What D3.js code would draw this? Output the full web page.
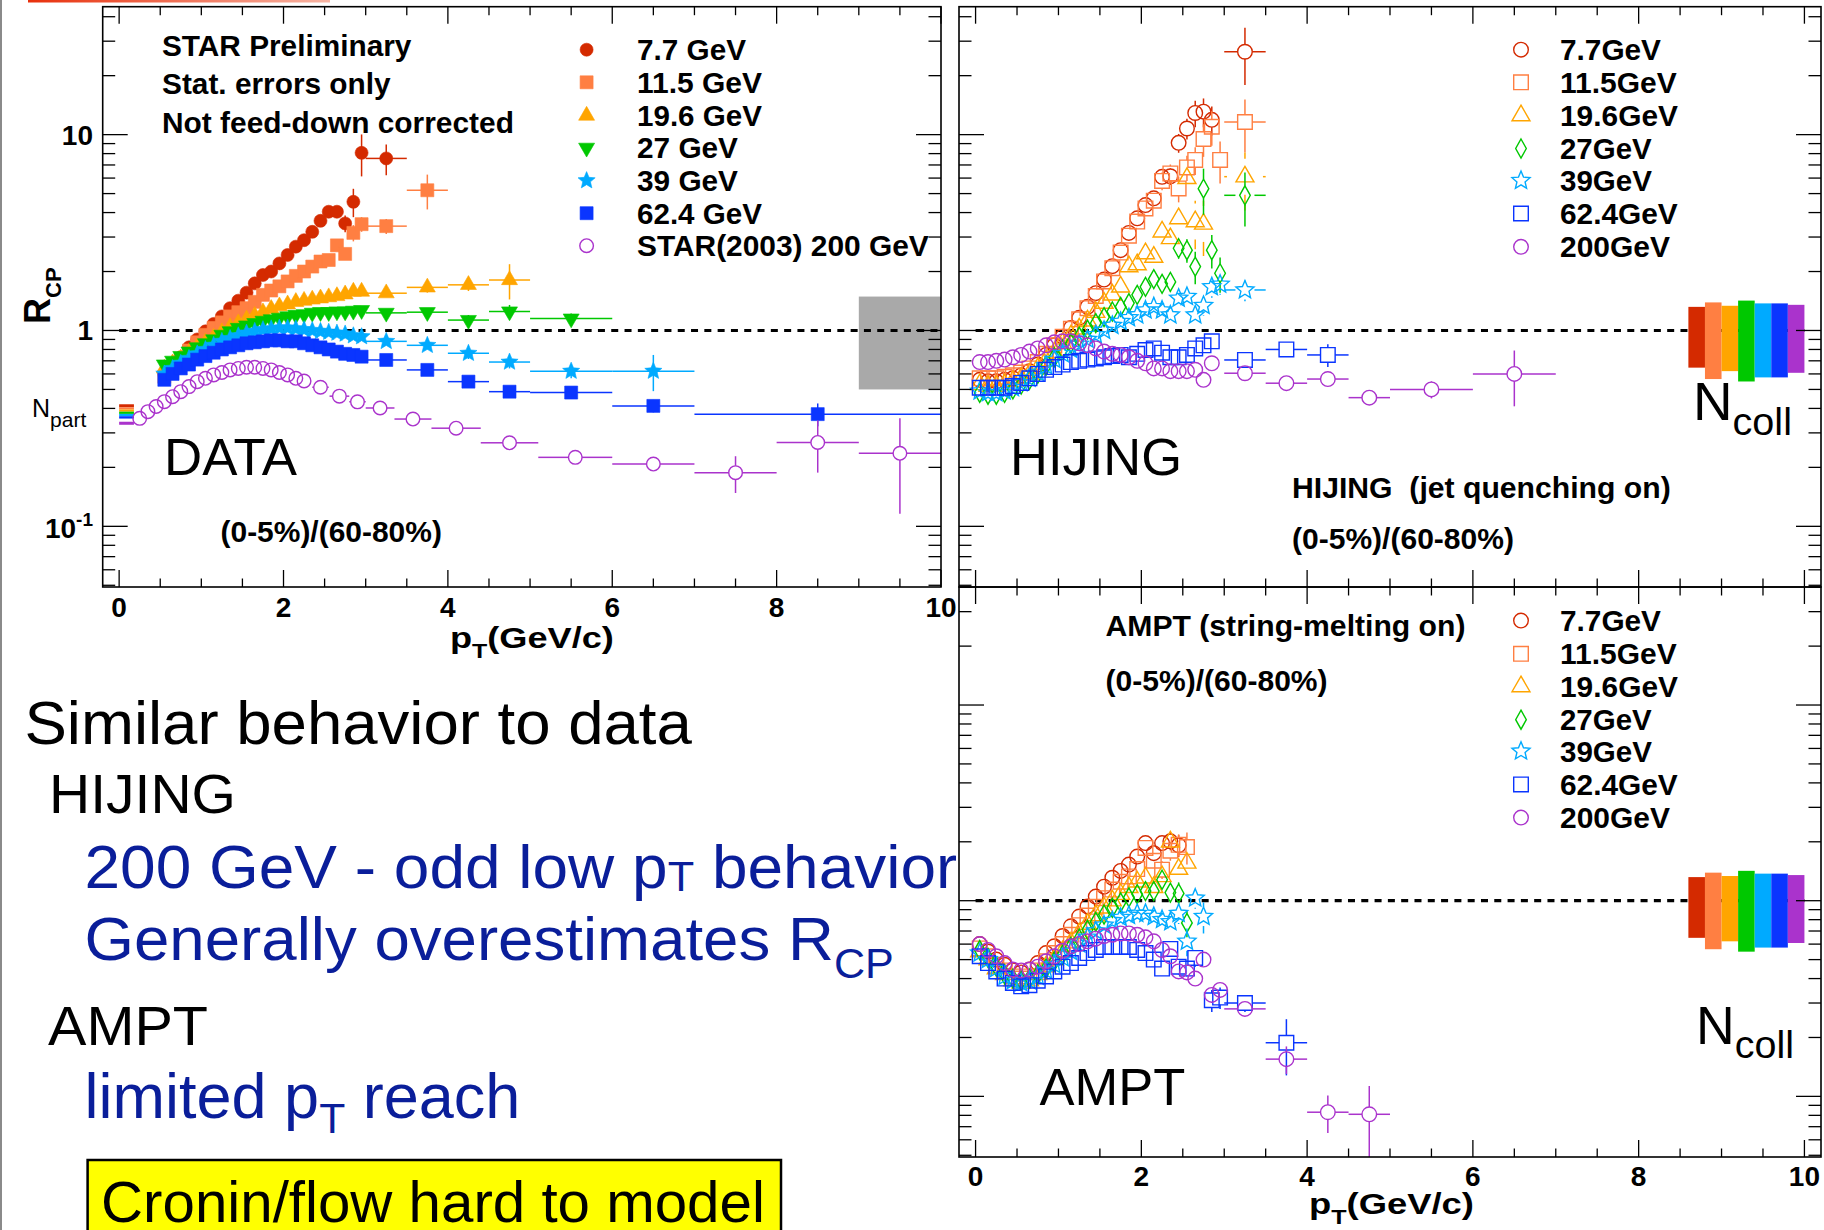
<!DOCTYPE html>
<html>
<head>
<meta charset="utf-8">
<script src="https://cdn.jsdelivr.net/npm/d3@7"></script>
<style>
  html, body { margin: 0; padding: 0; background: #fff; }
  svg { display: block; }
  text { font-family: "Liberation Sans", Arial, Helvetica, sans-serif; }
</style>
</head>
<body>
<svg id="slide" width="1824" height="1230"></svg>
<script>
// ---------------------------------------------------------------------------
// R_CP (0-5%)/(60-80%) vs pT.  Rows: [pT, R_CP, pT half-width, stat. error]
// ---------------------------------------------------------------------------

// STAR data, BES energies + STAR(2003) 200 GeV
const data7p7 = [[0.55,0.60],[0.65,0.66],[0.75,0.73],[0.85,0.82],[0.95,0.90],[1.05,0.99],[1.15,1.08],[1.25,1.18],[1.35,1.30],[1.45,1.42],[1.55,1.56],[1.65,1.74],[1.75,1.92],[1.85,2.00],[1.95,2.20],[2.05,2.43],[2.15,2.68],[2.25,2.89],[2.35,3.19],[2.45,3.63],[2.55,4.04],[2.65,4.04],[2.75,3.52,0.05,0.35],[2.85,4.54,0.05,0.75],[2.95,8.07,0.05,1.95],[3.25,7.56,0.25,1.35]];
const data11p5 = [[0.55,0.58],[0.65,0.64],[0.75,0.71],[0.85,0.79],[0.95,0.87],[1.05,0.95],[1.15,1.03],[1.25,1.10],[1.35,1.18],[1.45,1.24],[1.55,1.30],[1.65,1.40],[1.75,1.52],[1.85,1.60],[1.95,1.68],[2.05,1.78],[2.15,1.90],[2.25,2.00],[2.35,2.12],[2.45,2.25],[2.55,2.29],[2.65,2.72],[2.75,2.46],[2.85,3.15,0.05,0.3],[2.95,3.49,0.05,0.3],[3.25,3.41,0.25,0.3],[3.75,5.2,0.25,1.05]];
const data19p6 = [[0.55,0.64],[0.65,0.68],[0.75,0.72],[0.85,0.77],[0.95,0.82],[1.05,0.87],[1.15,0.92],[1.25,0.98],[1.35,1.04],[1.45,1.09],[1.55,1.14],[1.65,1.19],[1.75,1.24],[1.85,1.29],[1.95,1.33],[2.05,1.36],[2.15,1.40],[2.25,1.42],[2.35,1.44],[2.45,1.46],[2.55,1.48],[2.65,1.50],[2.75,1.53],[2.85,1.58],[2.95,1.58],[3.25,1.55,0.25,0.06],[3.75,1.66,0.25,0.1],[4.25,1.71,0.25,0.12],[4.75,1.81,0.25,0.37]];
const data27 = [[0.55,0.67],[0.65,0.70],[0.75,0.74],[0.85,0.78],[0.95,0.82],[1.05,0.86],[1.15,0.90],[1.25,0.95],[1.35,0.99],[1.45,1.03],[1.55,1.06],[1.65,1.09],[1.75,1.12],[1.85,1.14],[1.95,1.16],[2.05,1.18],[2.15,1.20],[2.25,1.21],[2.35,1.23],[2.45,1.24],[2.55,1.24],[2.65,1.25],[2.75,1.25],[2.85,1.26],[2.95,1.27],[3.25,1.23,0.25,0.04],[3.75,1.24,0.25,0.05],[4.25,1.13,0.25,0.07],[4.75,1.25,0.25,0.1],[5.5,1.15,0.5,0.07]];
const data39 = [[0.55,0.60],[0.65,0.64],[0.75,0.68],[0.85,0.72],[0.95,0.76],[1.05,0.80],[1.15,0.84],[1.25,0.88],[1.35,0.91],[1.45,0.94],[1.55,0.97],[1.65,0.99],[1.75,1.01],[1.85,1.02],[1.95,1.03],[2.05,1.03],[2.15,1.02],[2.25,1.01],[2.35,1.00],[2.45,0.99],[2.55,0.98],[2.65,0.97],[2.75,0.96],[2.85,0.94],[2.95,0.93],[3.25,0.88,0.25,0.03],[3.75,0.84,0.25,0.04],[4.25,0.765,0.25,0.05],[4.75,0.69,0.25,0.05],[5.5,0.62,0.5,0.05],[6.5,0.62,0.5,0.13]];
const data62p4 = [[0.55,0.56],[0.65,0.60],[0.75,0.64],[0.85,0.67],[0.95,0.71],[1.05,0.74],[1.15,0.77],[1.25,0.80],[1.35,0.82],[1.45,0.84],[1.55,0.86],[1.65,0.87],[1.75,0.88],[1.85,0.89],[1.95,0.89],[2.05,0.88],[2.15,0.88],[2.25,0.86],[2.35,0.84],[2.45,0.82],[2.55,0.80],[2.65,0.78],[2.75,0.76],[2.85,0.75],[2.95,0.735],[3.25,0.707,0.25,0.01],[3.75,0.629,0.25,0.015],[4.25,0.548,0.25,0.02],[4.75,0.487,0.25,0.02],[5.5,0.482,0.5,0.02],[6.5,0.412,0.5,0.03],[8.5,0.374,1.5,0.05]];
const data200 = [[0.25,0.356],[0.35,0.385],[0.45,0.409],[0.55,0.433],[0.65,0.459],[0.75,0.487],[0.85,0.517],[0.95,0.548],[1.05,0.57],[1.15,0.593],[1.25,0.61],[1.35,0.629],[1.45,0.64],[1.55,0.649],[1.65,0.649],[1.75,0.64],[1.85,0.629],[1.95,0.61],[2.05,0.593],[2.15,0.57],[2.25,0.552],[2.45,0.513,0.1,0.01],[2.68,0.462,0.12,0.01],[2.9,0.432,0.1,0.01],[3.175,0.402,0.175,0.012],[3.575,0.353,0.225,0.012],[4.1,0.317,0.3,0.012],[4.75,0.267,0.35,0.012],[5.55,0.225,0.45,0.01],[6.5,0.208,0.5,0.015],[7.5,0.188,0.5,0.04],[8.5,0.268,0.5,0.08],[9.5,0.236,0.5,0.12]];

// HIJING (jet quenching on)
const hij7p7 = [[0.05,0.56],[0.15,0.55],[0.25,0.55],[0.35,0.56],[0.45,0.57],[0.55,0.59],[0.65,0.62],[0.75,0.67],[0.85,0.75],[0.95,0.84],[1.05,0.93],[1.15,1.03],[1.25,1.16],[1.35,1.32],[1.45,1.55],[1.55,1.82],[1.65,2.13],[1.75,2.57],[1.85,3.15],[1.95,3.74],[2.05,4.37],[2.15,4.73],[2.25,6.09,0.05,0.5],[2.35,6.13,0.05,0.6],[2.45,9.08,0.05,1.0],[2.55,10.75,0.05,1.3],[2.65,12.9,0.05,2.0],[2.75,13.1,0.05,2.2],[2.85,11.9,0.05,2.0],[3.25,26.5,0.25,8.6]];
const hij11p5 = [[0.05,0.57],[0.15,0.57],[0.25,0.57],[0.35,0.58],[0.45,0.59],[0.55,0.61],[0.65,0.64],[0.75,0.69],[0.85,0.76],[0.95,0.84],[1.05,0.93],[1.15,1.02],[1.25,1.14],[1.35,1.30],[1.45,1.50],[1.55,1.78],[1.65,2.08],[1.75,2.50],[1.85,3.05],[1.95,3.60],[2.05,4.20],[2.15,4.60],[2.25,5.80,0.05,0.6],[2.35,6.34,0.05,0.7],[2.45,5.31,0.05,0.8],[2.55,6.80,0.05,1.0],[2.65,7.43,0.05,1.2],[2.75,9.5,0.05,1.8],[2.85,10.97,0.05,2.2],[2.95,7.43,0.05,1.8],[3.25,11.6,0.25,3.5]];
const hij19p6 = [[0.05,0.53],[0.15,0.52],[0.25,0.52],[0.35,0.53],[0.45,0.55],[0.55,0.57],[0.65,0.60],[0.75,0.64],[0.85,0.70],[0.95,0.77],[1.05,0.86],[1.15,0.94],[1.25,1.02],[1.35,1.12],[1.45,1.24],[1.55,1.38],[1.65,1.52],[1.75,1.67],[1.85,2.12,0.05,0.15],[1.95,2.17,0.05,0.2],[2.05,2.47,0.05,0.25],[2.15,2.37,0.05,0.3],[2.25,3.19,0.05,0.4],[2.35,2.95,0.05,0.45],[2.45,3.73,0.05,0.7],[2.55,5.98,0.05,1.1],[2.65,3.60,0.05,1.0],[2.75,3.50,0.05,1.1],[3.25,6.1,0.25,2.0]];
const hij27 = [[0.05,0.48],[0.15,0.47],[0.25,0.47],[0.35,0.48],[0.45,0.50],[0.55,0.53],[0.65,0.56],[0.75,0.60],[0.85,0.66],[0.95,0.73],[1.05,0.80],[1.15,0.86],[1.25,0.93],[1.35,1.01],[1.45,1.09],[1.55,1.17],[1.65,1.25],[1.75,1.32],[1.85,1.38],[1.95,1.52],[2.05,1.67,0.05,0.1],[2.15,1.83,0.05,0.12],[2.25,1.73,0.05,0.15],[2.35,1.77,0.05,0.2],[2.45,2.63,0.05,0.3],[2.55,2.57,0.05,0.35],[2.65,2.12,0.05,0.4],[2.75,5.3,0.05,1.4],[2.85,2.57,0.05,0.5],[2.95,1.96,0.05,0.4],[3.25,4.9,0.25,1.5]];
const hij39 = [[0.05,0.49],[0.15,0.48],[0.25,0.48],[0.35,0.49],[0.45,0.51],[0.55,0.54],[0.65,0.57],[0.75,0.61],[0.85,0.66],[0.95,0.71],[1.05,0.76],[1.15,0.80],[1.25,0.85],[1.35,0.90],[1.45,0.95],[1.55,1.00],[1.65,1.06],[1.75,1.11],[1.85,1.16],[1.95,1.20],[2.05,1.27],[2.15,1.32],[2.25,1.27],[2.35,1.20],[2.45,1.46,0.05,0.1],[2.55,1.49,0.05,0.1],[2.65,1.20,0.05,0.12],[2.75,1.34,0.05,0.15],[2.85,1.67,0.05,0.2],[2.95,1.72,0.05,0.2],[3.25,1.61,0.25,0.2]];
const hij62p4 = [[0.05,0.51],[0.15,0.51],[0.25,0.51],[0.35,0.51],[0.45,0.52],[0.55,0.54],[0.65,0.57],[0.75,0.60],[0.85,0.63],[0.95,0.65],[1.05,0.67],[1.15,0.69],[1.25,0.70],[1.35,0.71],[1.45,0.72],[1.55,0.73],[1.65,0.74],[1.75,0.75],[1.85,0.73],[1.95,0.76],[2.05,0.795],[2.15,0.81],[2.25,0.77],[2.35,0.73],[2.45,0.73],[2.55,0.75],[2.65,0.81],[2.75,0.84],[2.85,0.88],[3.25,0.707,0.25,0.03],[3.75,0.80,0.25,0.05],[4.25,0.75,0.25,0.1]];
const hij200 = [[0.05,0.69],[0.15,0.69],[0.25,0.70],[0.35,0.71],[0.45,0.73],[0.55,0.75],[0.65,0.78],[0.75,0.81],[0.85,0.84],[0.95,0.87],[1.05,0.88],[1.15,0.88],[1.25,0.86],[1.35,0.84],[1.45,0.81],[1.55,0.78],[1.65,0.76],[1.75,0.75],[1.85,0.73],[1.95,0.70],[2.05,0.68],[2.15,0.64],[2.25,0.64],[2.35,0.62],[2.45,0.62],[2.55,0.62],[2.65,0.63],[2.75,0.56],[2.85,0.68],[3.25,0.605,0.25,0.02],[3.75,0.538,0.25,0.02],[4.25,0.565,0.25,0.04],[4.75,0.454,0.25,0.03],[5.5,0.50,0.5,0.05],[6.5,0.60,0.5,0.19]];

// AMPT (string-melting on)
const amp7p7 = [[0.05,0.60],[0.15,0.55],[0.25,0.50],[0.35,0.47],[0.45,0.44],[0.55,0.43],[0.65,0.445],[0.75,0.48],[0.85,0.54],[0.95,0.585],[1.05,0.66],[1.15,0.74],[1.25,0.83],[1.35,0.935],[1.45,1.05],[1.55,1.18],[1.65,1.31],[1.75,1.42],[1.85,1.53],[1.95,1.68],[2.05,1.97],[2.15,1.75],[2.25,1.97,0.05,0.15],[2.35,2.01,0.05,0.2],[2.45,1.92,0.05,0.25]];
const amp11p5 = [[0.05,0.57],[0.15,0.52],[0.25,0.47],[0.35,0.44],[0.45,0.41],[0.55,0.40],[0.65,0.41],[0.75,0.44],[0.85,0.49],[0.95,0.54],[1.05,0.60],[1.15,0.67],[1.25,0.75],[1.35,0.84],[1.45,0.93],[1.55,1.03],[1.65,1.14],[1.75,1.25],[1.85,1.33],[1.95,1.45],[2.05,1.86],[2.15,1.60],[2.25,1.44,0.05,0.15],[2.35,1.80,0.05,0.2],[2.45,1.93,0.05,0.25],[2.55,1.88,0.05,0.35]];
const amp19p6 = [[0.05,0.55],[0.15,0.50],[0.25,0.45],[0.35,0.42],[0.45,0.39],[0.55,0.38],[0.65,0.39],[0.75,0.42],[0.85,0.46],[0.95,0.50],[1.05,0.55],[1.15,0.61],[1.25,0.68],[1.35,0.76],[1.45,0.84],[1.55,0.92],[1.65,1.00],[1.75,1.08],[1.85,1.17],[1.95,1.25],[2.05,1.31],[2.15,1.17],[2.25,1.33,0.05,0.15],[2.35,2.0,0.05,0.35],[2.45,1.45,0.05,0.2],[2.55,1.56,0.05,0.25]];
const amp27 = [[0.05,0.56],[0.15,0.51],[0.25,0.46],[0.35,0.42],[0.45,0.40],[0.55,0.39],[0.65,0.40],[0.75,0.42],[0.85,0.45],[0.95,0.49],[1.05,0.53],[1.15,0.58],[1.25,0.64],[1.35,0.71],[1.45,0.78],[1.55,0.85],[1.65,0.92],[1.75,0.98],[1.85,1.04],[1.95,1.08],[2.05,1.12],[2.15,1.12],[2.25,1.28,0.05,0.12],[2.35,1.10,0.05,0.12],[2.45,1.09,0.05,0.15],[2.55,0.77,0.05,0.12]];
const amp39 = [[0.05,0.54],[0.15,0.50],[0.25,0.45],[0.35,0.41],[0.45,0.39],[0.55,0.38],[0.65,0.39],[0.75,0.41],[0.85,0.44],[0.95,0.47],[1.05,0.51],[1.15,0.55],[1.25,0.60],[1.35,0.65],[1.45,0.70],[1.55,0.75],[1.65,0.79],[1.75,0.82],[1.85,0.84],[1.95,0.86],[2.05,0.86],[2.15,0.83],[2.25,0.80],[2.35,0.78,0.05,0.08],[2.45,0.86,0.05,0.1],[2.55,0.62,0.05,0.1],[2.65,1.03,0.05,0.12],[2.75,0.83,0.05,0.15]];
const amp62p4 = [[0.05,0.52],[0.15,0.48],[0.25,0.435],[0.35,0.40],[0.45,0.38],[0.55,0.365],[0.65,0.37],[0.75,0.39],[0.85,0.41],[0.95,0.435],[1.05,0.46],[1.15,0.48],[1.25,0.51],[1.35,0.54],[1.45,0.56],[1.55,0.58],[1.65,0.58],[1.75,0.58],[1.85,0.58],[1.95,0.56],[2.05,0.54],[2.15,0.50],[2.25,0.45],[2.35,0.567,0.05,0.04],[2.45,0.46,0.05,0.04],[2.55,0.45,0.05,0.04],[2.65,0.51,0.05,0.05],[2.85,0.31,0.05,0.04],[2.95,0.32,0.05,0.04],[3.25,0.30,0.25,0.03],[3.75,0.188,0.25,0.06]];
const amp200 = [[0.05,0.60],[0.15,0.56],[0.25,0.52],[0.35,0.48],[0.45,0.445],[0.55,0.44],[0.65,0.445],[0.75,0.46],[0.85,0.49],[0.95,0.52],[1.05,0.555],[1.15,0.585],[1.25,0.60],[1.35,0.62],[1.45,0.64],[1.55,0.66],[1.65,0.67],[1.75,0.68],[1.85,0.68],[1.95,0.67],[2.05,0.65],[2.15,0.62],[2.25,0.56],[2.35,0.52],[2.45,0.435],[2.55,0.43],[2.65,0.40],[2.75,0.50],[2.85,0.33,0.05,0.03],[2.95,0.35,0.05,0.03],[3.25,0.28,0.25,0.02],[3.75,0.155,0.25,0.025],[4.25,0.083,0.25,0.018],[4.75,0.081,0.25,0.032]];

// Scaling uncertainty bands, one per energy (7.7 ... 200 GeV)
const ncollLo = [0.646, 0.565, 0.620, 0.549, 0.576, 0.576, 0.608];
const ncollHi = [1.32, 1.391, 1.337, 1.421, 1.375, 1.375, 1.352];
const ncollX = [8.6, 8.8, 9.0, 9.2, 9.4, 9.6, 9.8];
const npartLo = [0.405, 0.395, 0.385, 0.375, 0.365, 0.355, 0.330];
const npartHi = [0.420, 0.405, 0.395, 0.385, 0.375, 0.365, 0.342];
const dataNormBox = [9.0, 10.0, 0.5, 1.49];   // pT from, pT to, R_CP low, R_CP high

// Legends and axis labels
const labelsData = ["7.7 GeV", "11.5 GeV", "19.6 GeV", "27 GeV", "39 GeV", "62.4 GeV", "STAR(2003) 200 GeV"];
const labelsModel = ["7.7GeV", "11.5GeV", "19.6GeV", "27GeV", "39GeV", "62.4GeV", "200GeV"];
const xTickLabels = [0, 2, 4, 6, 8, 10];
const yTickLabels = [10, 1, 0.1];

// ---------------------------------------------------------------------------
const colors = ["#d42a00", "#ff7f42", "#ffa500", "#00c800", "#00aaff", "#0a35ff", "#aa33cc"];
const yDomain = [0.049, 45];
const svg = d3.select("#slide");

// Shape outline for a marker, centered on 0,0
function shapePath(kind, s) {
  const r3 = Math.sqrt(3);
  switch (kind) {
    case "circle": return `M${s},0A${s},${s} 0 1,1 ${-s},0A${s},${s} 0 1,1 ${s},0Z`;
    case "square": return `M${-s},${-s}H${s}V${s}H${-s}Z`;
    case "triUp": return `M0,${-s / r3}L${s / 2},${s / (2 * r3)}L${-s / 2},${s / (2 * r3)}Z`;
    case "triDown": return `M0,${s / r3}L${s / 2},${-s / (2 * r3)}L${-s / 2},${-s / (2 * r3)}Z`;
    case "diamond": return `M0,${-s}L${s * 0.56},0L0,${s}L${-s * 0.56},0Z`;
    case "star": {
      const pts = d3.range(10).map(i => {
        const a = -Math.PI / 2 + i * Math.PI / 5;
        const rr = i % 2 === 0 ? s : s * 0.45;
        return [rr * Math.cos(a), rr * Math.sin(a)];
      });
      return "M" + pts.map(p => p[0].toFixed(2) + "," + p[1].toFixed(2)).join("L") + "Z";
    }
  }
}

// Text squeezed/stretched horizontally to a given width
function fitText(parent, parts, x, y, width, size, opts = {}) {
  const t = parent.append("text")
    .attr("font-size", size)
    .attr("font-weight", opts.bold ? "bold" : "normal")
    .attr("fill", opts.fill || "#000")
    .style("white-space", "pre");
  parts.forEach(p => {
    const s = t.append("tspan").text(p.t);
    if (p.size) s.attr("font-size", p.size);
    if (p.dy) s.attr("dy", p.dy);
  });
  const w = t.node().getComputedTextLength();
  const sx = width ? width / w : 1;
  t.attr("transform", `translate(${x},${y}) scale(${sx},1)`);
  return t;
}

// Panel: scales over the plot area; the frame may start below the scale's top (fTop)
function makePanel(g, p) {
  const x = d3.scaleLinear().domain(p.xd).range([p.x0, p.x1]);
  const y = d3.scaleLog().domain(yDomain).range([p.y1, p.y0]);
  return Object.assign({ g, x, y, fTop: p.y0 }, p);
}

function drawFrame(P) {
  const g = P.g.append("g").attr("stroke", "#000").attr("fill", "none");
  const top = P.fTop;
  const xt = d3.range(0, 10.001, 0.5);
  const isMajorX = d => Math.abs(d / 2 - Math.round(d / 2)) < 1e-6;
  const yt = [];
  [-2, -1, 0, 1].forEach(e => d3.range(1, 10).forEach(m => yt.push(m * Math.pow(10, e))));
  const yIn = yt.filter(v => v >= yDomain[0] && v <= yDomain[1] && P.y(v) >= top);
  const isMajorY = v => Math.abs(Math.log10(v) - Math.round(Math.log10(v))) < 1e-6;

  g.selectAll("line.xb").data(xt).join("line").attr("class", "xb")
    .attr("x1", d => P.x(d)).attr("x2", d => P.x(d))
    .attr("y1", P.y1).attr("y2", d => P.y1 - (isMajorX(d) ? 17 : 8.5)).attr("stroke-width", 1.3);
  g.selectAll("line.xt").data(xt).join("line").attr("class", "xt")
    .attr("x1", d => P.x(d)).attr("x2", d => P.x(d))
    .attr("y1", top).attr("y2", d => top + (isMajorX(d) ? 17 : 8.5)).attr("stroke-width", 1.3);
  g.selectAll("line.yl").data(yIn).join("line").attr("class", "yl")
    .attr("y1", d => P.y(d)).attr("y2", d => P.y(d))
    .attr("x1", P.x0).attr("x2", d => P.x0 + (isMajorY(d) ? 25 : 12.5)).attr("stroke-width", 1.3);
  g.selectAll("line.yr").data(yIn).join("line").attr("class", "yr")
    .attr("y1", d => P.y(d)).attr("y2", d => P.y(d))
    .attr("x1", P.x1).attr("x2", d => P.x1 - (isMajorY(d) ? 25 : 12.5)).attr("stroke-width", 1.3);
  g.append("rect").attr("x", P.x0).attr("y", top)
    .attr("width", P.x1 - P.x0).attr("height", P.y1 - top).attr("stroke-width", 1.6);
}

function drawUnity(P) {
  P.g.append("line")
    .attr("x1", P.x(0)).attr("x2", P.x(10)).attr("y1", P.y(1)).attr("y2", P.y(1))
    .attr("stroke", "#000").attr("stroke-width", 3.2).attr("stroke-dasharray", "7,6.3");
}

function drawSeries(P, rows, st) {
  const g = P.g.append("g");
  const gap = st.filled ? 0 : st.size;
  const segs = [];
  rows.forEach(r => {
    const [pt, v, ex = 0.05, ey = 0] = r;
    const cx = P.x(pt), cy = P.y(v);
    if (ey > 0) {
      const yt = P.y(Math.min(v + ey, yDomain[1]));
      const yb = P.y(Math.max(v - ey, yDomain[0]));
      if (cy - gap > yt) segs.push([cx, yt, cx, cy - gap]);
      if (yb > cy + gap) segs.push([cx, cy + gap, cx, yb]);
    }
    const xl = P.x(pt - ex), xr = P.x(pt + ex);
    if (cx - gap > xl + 0.5) segs.push([xl, cy, cx - gap, cy]);
    if (xr > cx + gap + 0.5) segs.push([cx + gap, cy, xr, cy]);
  });
  g.selectAll("line").data(segs).join("line")
    .attr("x1", d => d[0]).attr("y1", d => d[1]).attr("x2", d => d[2]).attr("y2", d => d[3])
    .attr("stroke", st.color).attr("stroke-width", 1.5);
  g.selectAll("path").data(rows).join("path")
    .attr("d", shapePath(st.kind, st.size))
    .attr("transform", d => `translate(${P.x(d[0])},${P.y(d[1])})`)
    .attr("fill", st.filled ? st.color : "none")
    .attr("stroke", st.color)
    .attr("stroke-width", st.filled ? 0.6 : 1.4);
}

function drawLegend(g, labels, styles, mx, tx, rows, widths) {
  labels.forEach((lab, i) => {
    const st = styles[i];
    g.append("path").attr("d", shapePath(st.kind, st.size))
      .attr("transform", `translate(${mx},${rows[i]})`)
      .attr("fill", st.filled ? st.color : "none").attr("stroke", st.color)
      .attr("stroke-width", st.filled ? 0.6 : 1.4);
    fitText(g, [{ t: lab }], tx, rows[i] + 10.5, widths[i], 29, { bold: true });
  });
}

function drawNcollBoxes(P) {
  P.g.append("g").selectAll("rect").data(ncollX).join("rect")
    .attr("x", d => P.x(d)).attr("width", (d) => P.x(d + 0.2) - P.x(d))
    .attr("y", (d, i) => P.y(ncollHi[i]))
    .attr("height", (d, i) => P.y(ncollLo[i]) - P.y(ncollHi[i]))
    .attr("fill", (d, i) => colors[i]);
}

// ---------------------------------------------------------------------------
// Slide background pieces
svg.append("rect").attr("width", 1824).attr("height", 1230).attr("fill", "#fff");
const grad = svg.append("defs").append("linearGradient").attr("id", "titleRule");
grad.append("stop").attr("offset", "0%").attr("stop-color", "#e8300c");
grad.append("stop").attr("offset", "100%").attr("stop-color", "#f7b5a4");
svg.append("rect").attr("x", 28).attr("y", 0).attr("width", 302).attr("height", 2.5).attr("fill", "url(#titleRule)");
svg.append("rect").attr("x", 0).attr("y", 0).attr("width", 2).attr("height", 1230).attr("fill", "#8a8a8a");

// Bullet text on the slide
const notes = svg.append("g");
fitText(notes, [{ t: "Similar behavior to data" }], 24.5, 744, 667.5, 61);
fitText(notes, [{ t: "HIJING" }], 49, 813, 187, 56);
fitText(notes, [{ t: "200 GeV - odd low p" }, { t: "T", size: 42, dy: 3 }, { t: " behavior", size: 62, dy: -3 }], 84.5, 888, 873, 62, { fill: "#0a1e9a" });
fitText(notes, [{ t: "Generally overestimates R" }, { t: "CP", size: 42, dy: 18 }], 84.5, 960, 809.5, 62, { fill: "#0a1e9a" });
fitText(notes, [{ t: "AMPT" }], 48, 1045, 160, 56);
fitText(notes, [{ t: "limited p" }, { t: "T", size: 42, dy: 15 }, { t: " reach", size: 62, dy: -15 }], 84.5, 1118, 436, 62, { fill: "#0a1e9a" });
notes.append("rect").attr("x", 87.6).attr("y", 1160).attr("width", 693.4).attr("height", 100)
  .attr("fill", "#ffff00").attr("stroke", "#000").attr("stroke-width", 2.5);
fitText(notes, [{ t: "Cronin/flow hard to model" }], 101, 1222, 664, 58);

// ---------------------------------------------------------------------------
// Panel 1: STAR data
const dataStyles = [
  { color: colors[0], kind: "circle", size: 6.5, filled: true },
  { color: colors[1], kind: "square", size: 6.5, filled: true },
  { color: colors[2], kind: "triUp", size: 16, filled: true },
  { color: colors[3], kind: "triDown", size: 16, filled: true },
  { color: colors[4], kind: "star", size: 9, filled: true },
  { color: colors[5], kind: "square", size: 6.5, filled: true },
  { color: colors[6], kind: "circle", size: 6.8, filled: false }
];
const modelStyles = [
  { color: colors[0], kind: "circle", size: 7.3, filled: false },
  { color: colors[1], kind: "square", size: 7.3, filled: false },
  { color: colors[2], kind: "triUp", size: 18, filled: false },
  { color: colors[3], kind: "diamond", size: 9.5, filled: false },
  { color: colors[4], kind: "star", size: 9.5, filled: false },
  { color: colors[5], kind: "square", size: 7.3, filled: false },
  { color: colors[6], kind: "circle", size: 7.3, filled: false }
];

const PD = makePanel(svg.append("g"), { x0: 102.7, x1: 941, xd: [-0.2, 10], y0: 6.7, y1: 587 });
PD.g.append("rect")
  .attr("x", PD.x(dataNormBox[0])).attr("width", PD.x(dataNormBox[1]) - PD.x(dataNormBox[0]))
  .attr("y", PD.y(dataNormBox[3])).attr("height", PD.y(dataNormBox[2]) - PD.y(dataNormBox[3]))
  .attr("fill", "#a9a9a9");
drawUnity(PD);
PD.g.append("g").selectAll("rect").data(npartLo).join("rect")
  .attr("x", PD.x(0)).attr("width", PD.x(0.18) - PD.x(0))
  .attr("y", (d, i) => PD.y(npartHi[i])).attr("height", (d, i) => PD.y(d) - PD.y(npartHi[i]))
  .attr("fill", (d, i) => colors[i]);
[data7p7, data11p5, data19p6, data27, data39, data62p4, data200].forEach((rows, i) => drawSeries(PD, rows, dataStyles[i]));
drawFrame(PD);

// axis labels
PD.g.append("g").selectAll("text").data(xTickLabels).join("text")
  .attr("x", d => PD.x(d)).attr("y", 616.5).attr("text-anchor", "middle")
  .attr("font-size", 28).attr("font-weight", "bold").text(d => d);
const yl = PD.g.append("g").attr("font-size", 28).attr("font-weight", "bold");
yTickLabels.forEach(v => {
  if (v === 0.1) {
    const t = yl.append("text").attr("x", 93).attr("y", PD.y(v) + 12).attr("text-anchor", "end");
    t.append("tspan").text("10");
    t.append("tspan").attr("font-size", 19).attr("dy", -12).text("-1");
  } else {
    yl.append("text").attr("x", 93).attr("y", PD.y(v) + 10).attr("text-anchor", "end").text(v);
  }
});
fitText(PD.g, [{ t: "p" }, { t: "T", size: 20, dy: 10 }, { t: "(GeV/c)", size: 29, dy: -10 }], 450, 648, 164, 29, { bold: true });
const rcp = PD.g.append("text").attr("transform", "translate(50,324) rotate(-90)")
  .attr("font-size", 36).attr("font-weight", "bold");
rcp.append("tspan").text("R");
rcp.append("tspan").attr("font-size", 22).attr("dy", 11).text("CP");
const np = PD.g.append("text").attr("x", 32).attr("y", 417).attr("font-size", 25);
np.append("tspan").text("N");
np.append("tspan").attr("font-size", 21).attr("dy", 10).text("part");

fitText(PD.g, [{ t: "STAR Preliminary" }], 162, 55.5, 249.5, 29, { bold: true });
fitText(PD.g, [{ t: "Stat. errors only" }], 162, 94, 228.7, 29, { bold: true });
fitText(PD.g, [{ t: "Not feed-down corrected" }], 162, 133, 352, 29, { bold: true });
drawLegend(PD.g, labelsData, dataStyles, 586.6, 637,
  [49.7, 82.3, 115.6, 147.8, 180.6, 213.2, 245.7], [109, 125, 125, 101, 101, 125, 292]);
fitText(PD.g, [{ t: "DATA" }], 164, 474.6, 133, 51);
fitText(PD.g, [{ t: "(0-5%)/(60-80%)" }], 220.5, 542, 221.5, 29, { bold: true });

// ---------------------------------------------------------------------------
// Right column background
svg.append("rect").attr("x", 956).attr("y", 0).attr("width", 868).attr("height", 1230).attr("fill", "#fff");

// Panel 3: AMPT (frame shares its top edge with the HIJING frame)
const PA = makePanel(svg.append("g"), { x0: 959, x1: 1821, xd: [-0.2, 10.2], y0: 577.2, y1: 1157 });
PA.fTop = 587;
drawUnity(PA);
drawNcollBoxes(PA);
[amp7p7, amp11p5, amp19p6, amp27, amp39, amp62p4, amp200].forEach((rows, i) => drawSeries(PA, rows, modelStyles[i]));
drawFrame(PA);
PA.g.append("g").selectAll("text").data(xTickLabels).join("text")
  .attr("x", d => PA.x(d)).attr("y", 1186).attr("text-anchor", "middle")
  .attr("font-size", 28).attr("font-weight", "bold").text(d => d);
fitText(PA.g, [{ t: "p" }, { t: "T", size: 20, dy: 10 }, { t: "(GeV/c)", size: 29, dy: -10 }], 1309, 1214, 165, 29, { bold: true });
fitText(PA.g, [{ t: "AMPT (string-melting on)" }], 1105.6, 636, 360, 29, { bold: true });
fitText(PA.g, [{ t: "(0-5%)/(60-80%)" }], 1105.6, 691, 222, 29, { bold: true });
drawLegend(PA.g, labelsModel, modelStyles, 1521, 1560,
  [620.6, 653.8, 686.5, 719.7, 751.2, 784.4, 817.6], [101, 116.7, 118, 91.7, 92, 117.8, 110]);
fitText(PA.g, [{ t: "AMPT" }], 1039.4, 1104.5, 146, 52);
fitText(PA.g, [{ t: "N" }, { t: "coll", size: 39, dy: 14 }], 1696, 1044, 98, 53);

// Panel 2: HIJING
const PH = makePanel(svg.append("g"), { x0: 959, x1: 1821, xd: [-0.2, 10.2], y0: 6.7, y1: 587 });
drawUnity(PH);
drawNcollBoxes(PH);
[hij7p7, hij11p5, hij19p6, hij27, hij39, hij62p4, hij200].forEach((rows, i) => drawSeries(PH, rows, modelStyles[i]));
drawFrame(PH);
drawLegend(PH.g, labelsModel, modelStyles, 1521, 1560,
  [49.7, 82.3, 115.6, 148.5, 180.6, 213.5, 246.8], [101, 116.7, 118, 91.7, 92, 117.8, 110]);
fitText(PH.g, [{ t: "HIJING" }], 1010, 474.6, 172, 52);
fitText(PH.g, [{ t: "HIJING\u00a0 (jet quenching on)" }], 1292, 497.5, 379, 29, { bold: true });
fitText(PH.g, [{ t: "(0-5%)/(60-80%)" }], 1292, 549, 222, 29, { bold: true });
fitText(PH.g, [{ t: "N" }, { t: "coll", size: 39, dy: 15 }], 1693, 420, 99, 54);
</script>
</body>
</html>
